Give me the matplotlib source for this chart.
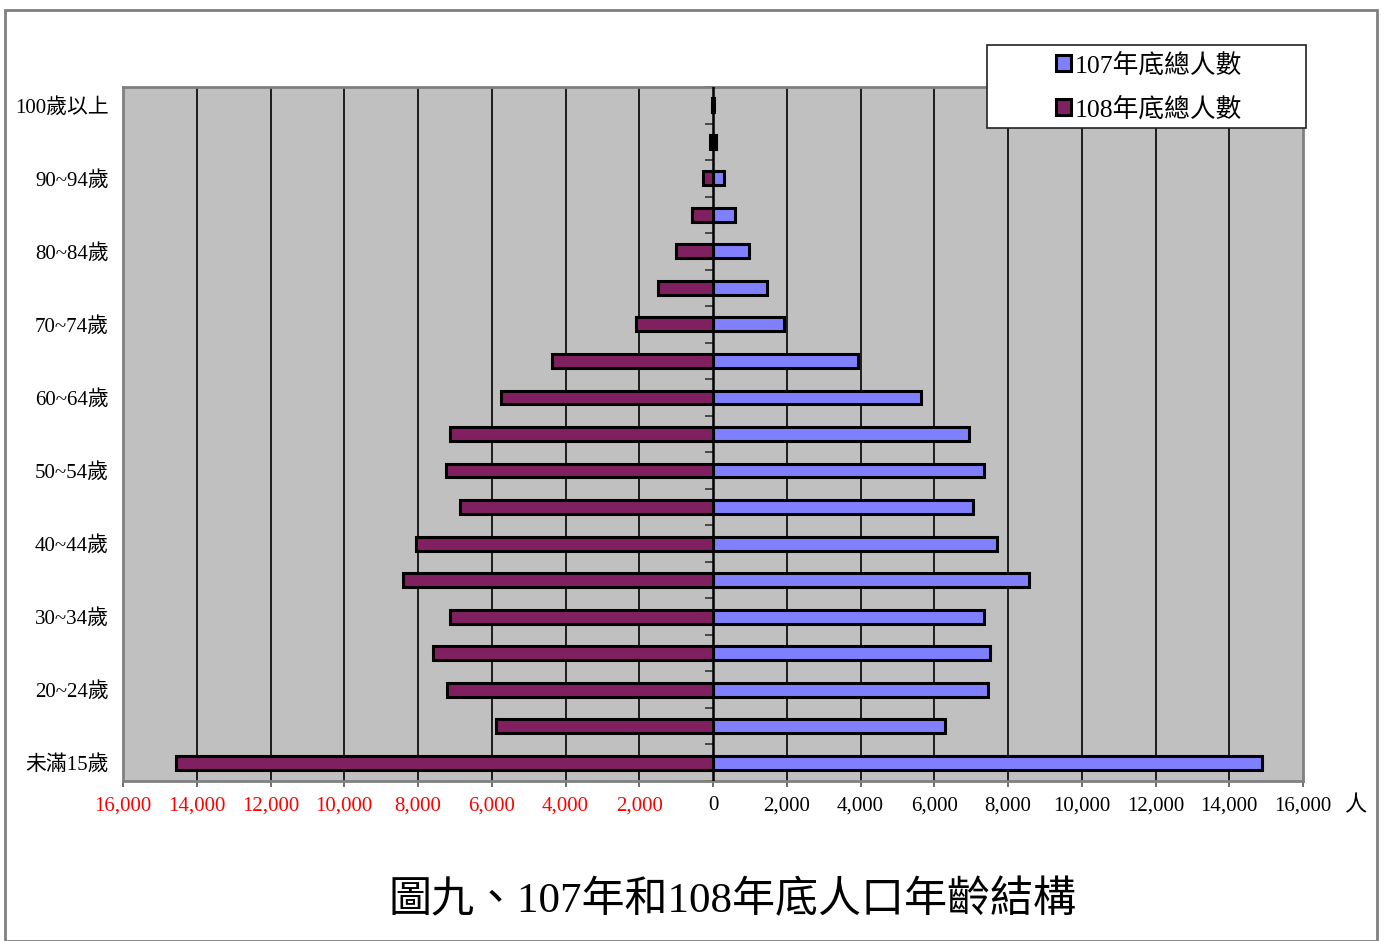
import numpy as np
import matplotlib
matplotlib.use('Agg')
from matplotlib import pyplot as plt
from matplotlib.patches import Rectangle
from matplotlib.ticker import FixedLocator, FuncFormatter

# grupos de edad (de abajo hacia arriba)
grupos = ['未滿15歲', '15~19歲', '20~24歲', '25~29歲', '30~34歲', '35~39歲',
          '40~44歲', '45~49歲', '50~54歲', '55~59歲', '60~64歲', '65~69歲',
          '70~74歲', '75~79歲', '80~84歲', '85~89歲', '90~94歲', '95~99歲',
          '100歲以上']

# 107年底總人數 (derecha)
pob107 = [14890, 6290, 7460, 7510, 7350, 8570, 7700, 7050, 7350, 6940,
          5640, 3930, 1930, 1460, 980, 600, 300, 70, 20]
# 108年底總人數 (izquierda)
pob108 = [14560, 5880, 7210, 7590, 7130, 8410, 8050, 6860, 7240, 7130,
          5750, 4370, 2090, 1490, 1000, 570, 270, 80, 20]

serie107 = '107年底總人數'
serie108 = '108年底總人數'
titulo = '圖九、107年和108年底人口年齡結構'
unidad = '人'

fuente = ['Liberation Serif', 'Noto Sans CJK TC', 'DejaVu Sans']
plt.rcParams['font.family'] = fuente

color107 = '#8080FF'
color108 = '#802060'

fig = plt.figure(figsize=(13.86, 9.41), dpi=100)
ax = fig.add_axes([123/1386, 1 - 781/941, (1303 - 123)/1386, (781 - 87)/941])
ax.set_facecolor('#C0C0C0')

y = np.arange(len(grupos))
ax.barh(y, pob107, height=0.38, color=color107, edgecolor='black', linewidth=2.2,
        label=serie107, zorder=3)
ax.barh(y, -np.array(pob108), height=0.38, color=color108, edgecolor='black',
        linewidth=2.2, label=serie108, zorder=3)

ax.set_xlim(-16000, 16000)
ax.set_ylim(-0.5, len(grupos) - 0.5)

# rejilla vertical
ticksx = np.arange(-16000, 16001, 2000)
ax.xaxis.set_major_locator(FixedLocator(ticksx))
ax.xaxis.set_major_formatter(FuncFormatter(lambda v, p: f'{abs(int(v)):,}'))
for t in ticksx:
    if -16000 < t < 16000 and t != 0:
        ax.axvline(t, color='black', linewidth=1.2, zorder=1)
ax.axvline(0, color='black', linewidth=1.8, zorder=4)

for lbl, t in zip(ax.get_xticklabels(), ticksx):
    lbl.set_color('red' if t < 0 else 'black')
ax.tick_params(axis='x', labelsize=15, length=4, width=1.2, color='#555555', pad=7)

# etiquetas de edad cada dos grupos
ax.set_yticks(y[::2])
ax.set_yticklabels(grupos[::2])
ax.tick_params(axis='y', labelsize=15, length=0, pad=10)

for s in ax.spines.values():
    s.set_color('#808080')
    s.set_linewidth(2)

# eje central con marcas entre grupos
eje = ax.secondary_yaxis(0.5)
eje.set_yticks(np.arange(-0.5, len(grupos), 1))
eje.set_yticklabels([])
eje.tick_params(direction='in', length=6, width=1.2, color='#333333')
eje.spines['left'].set_color('black')
eje.spines['left'].set_linewidth(1.8)

fig.text(1355/1386, 1 - 806/941, unidad, fontsize=16, ha='center', va='center')

# leyenda
caja = Rectangle((987/1386, 1 - 128/941), (1306 - 987)/1386, (128 - 45)/941,
                 transform=fig.transFigure, facecolor='white', edgecolor='#222222',
                 linewidth=1.2, zorder=5)
fig.patches.append(caja)
h, l = ax.get_legend_handles_labels()
leg = fig.legend(h, l, loc='center', bbox_to_anchor=(1149/1386, 1 - 87/941),
                 frameon=False, fontsize=18.5, handlelength=0.6, handleheight=0.6,
                 handletextpad=0.15, labelspacing=0.75)
leg.set_zorder(6)

fig.text(732/1386, 1 - 901/941, titulo, fontsize=31, ha='center', va='center')

# borde exterior
borde = Rectangle((5/1386, 0), 1372/1386, 1 - 10/941, transform=fig.transFigure,
                  facecolor='none', edgecolor='#808080', linewidth=2)
fig.patches.append(borde)

fig.savefig('out.png', dpi=100)
